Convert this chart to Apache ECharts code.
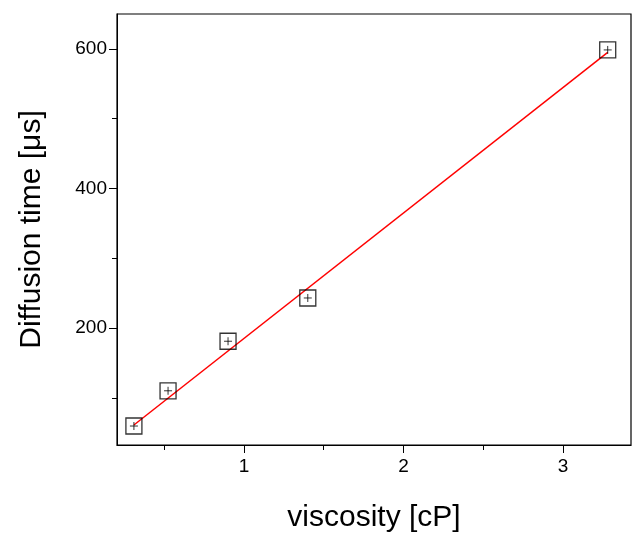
<!DOCTYPE html>
<html>
<head>
<meta charset="utf-8">
<script src="https://cdn.jsdelivr.net/npm/echarts@6/dist/echarts.min.js"></script>
<style>html,body{margin:0;padding:0;background:#fff}#chart{width:634px;height:535px}</style>
</head>
<body>
<div id="chart"></div>
<script>
var viscosity = [0.31, 0.524, 0.90, 1.40, 3.28];
var diffTime = [59.5, 110, 181, 243, 598.5];
var fitX = [0.31, 3.28];
var fitY = [61, 595];
var xTicks = [1, 2, 3];
var yTicks = [200, 400, 600];
var xMinorTicks = [0.5, 1.5, 2.5];
var yMinorTicks = [100, 300, 500];

var myChart = echarts.init(document.getElementById('chart'));
var pts = viscosity.map(function (v, i) { return [v, diffTime[i]]; });
var font = 'Liberation Sans, Arial, sans-serif';
var black = { color: '#000' };

var option = {
    animation: false,
    grid: { left: 117, top: 14, width: 514, height: 431, outerBoundsMode: 'none', containLabel: false,
            show: true, borderColor: '#000', borderWidth: 1.2 },
    xAxis: [{
        type: 'value', min: 0.204, max: 3.426,
        name: 'viscosity [cP]', nameLocation: 'middle', nameGap: 58,
        nameTextStyle: { fontSize: 30, fontFamily: font, color: '#000' },
        axisLine: { show: true, onZero: false, lineStyle: black },
        axisTick: { show: true, inside: false, length: 8, customValues: xTicks, lineStyle: black },
        splitLine: { show: false },
        axisLabel: { fontSize: 19, fontFamily: font, color: '#000', margin: 12, customValues: xTicks }
    }, {
        type: 'value', min: 0.204, max: 3.426, position: 'bottom',
        axisLine: { show: false },
        axisTick: { show: true, inside: false, length: 5, customValues: xMinorTicks, lineStyle: black },
        splitLine: { show: false },
        axisLabel: { show: false }
    }],
    yAxis: [{
        type: 'value', min: 32.3, max: 650,
        name: 'Diffusion time [\u03bcs]', nameLocation: 'middle', nameGap: 70,
        nameTextStyle: { fontSize: 30, fontFamily: font, color: '#000' },
        axisLine: { show: true, onZero: false, lineStyle: black },
        axisTick: { show: true, inside: false, length: 8, customValues: yTicks, lineStyle: black },
        splitLine: { show: false },
        axisLabel: { fontSize: 19, fontFamily: font, color: '#000', margin: 10, customValues: yTicks }
    }, {
        type: 'value', min: 32.3, max: 650, position: 'left',
        axisLine: { show: false },
        axisTick: { show: true, inside: false, length: 5, customValues: yMinorTicks, lineStyle: black },
        splitLine: { show: false },
        axisLabel: { show: false }
    }],
    series: [
        {
            type: 'line', data: fitX.map(function (v, i) { return [v, fitY[i]]; }),
            symbol: 'none', lineStyle: { color: '#ff0000', width: 1.5 }, z: 1
        },
        {
            type: 'scatter', data: pts, symbol: 'rect', symbolSize: 16,
            itemStyle: { color: 'rgba(0,0,0,0)', borderColor: '#000', borderWidth: 1.3 }, z: 3
        },
        {
            type: 'scatter', data: pts, symbol: 'path://M5,0L5,10M0,5L10,5', symbolSize: 8,
            itemStyle: { color: 'none', borderColor: '#000', borderWidth: 1 }, z: 4
        }
    ]
};
myChart.setOption(option);
window.addEventListener('resize', function () { myChart.resize(); });
</script>
</body>
</html>
